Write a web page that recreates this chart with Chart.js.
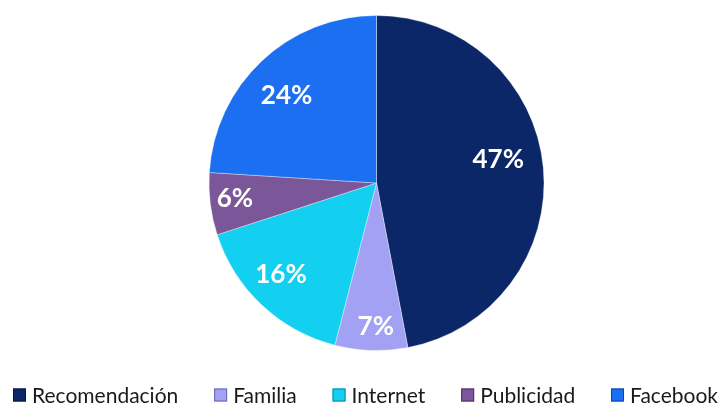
<!DOCTYPE html>
<html>
<head>
<meta charset="utf-8">
<script src="https://cdn.jsdelivr.net/npm/chart.js@4/dist/chart.umd.min.js"></script>
<style>
html,body{margin:0;padding:0;background:#fff;}
#wrap{width:722px;height:405px;position:relative;}
</style>
</head>
<body>
<div id="wrap"><canvas id="c" width="722" height="405"></canvas></div>
<script>
const categories = ["Recomendación", "Familia", "Internet", "Publicidad", "Facebook"];
const values = [47, 7, 16, 6, 24];
const valueLabels = ["47%", "7%", "16%", "6%", "24%"];

const sliceColors = ["#0c2767", "#a3a1f3", "#13d0f0", "#7b5799", "#1b6ff0"];
const boxBorders = ["#06163d", "#6a67b5", "#0a8aa3", "#4d3266", "#0d47a8"];
const labelRadius = [0.74, 0.86, 0.79, 0.85, 0.75];
const labelAngleShift = [-5.5, -1.5, 3, 1, -2.5];

const labelPlugin = {
  id: 'sliceLabels',
  afterDatasetsDraw(chart) {
    const ctx = chart.ctx;
    const meta = chart.getDatasetMeta(0);
    ctx.save();
    ctx.font = 'bold 26px Lato, "Open Sans", sans-serif';
    ctx.fillStyle = '#ffffff';
    ctx.textAlign = 'center';
    ctx.textBaseline = 'middle';
    meta.data.forEach((arc, i) => {
      const p = arc.getProps(['x','y','startAngle','endAngle','outerRadius'], true);
      const mid = (p.startAngle + p.endAngle) / 2 + labelAngleShift[i] * Math.PI / 180;
      const r = p.outerRadius * labelRadius[i];
      ctx.fillText(valueLabels[i], p.x + Math.cos(mid) * r, p.y + Math.sin(mid) * r);
    });
    ctx.restore();
  }
};

const legendPlugin = {
  id: 'bottomLegend',
  afterDraw(chart) {
    const ctx = chart.ctx;
    ctx.save();
    ctx.font = '21px Lato, "Open Sans", sans-serif';
    ctx.textBaseline = 'middle';
    ctx.textAlign = 'left';
    const box = 13, gap = 6;
    const widths = categories.map(c => ctx.measureText(c).width);
    const itemsW = widths.reduce((a, w) => a + box + gap + w, 0);
    const totalW = 705;
    const spacing = (totalW - itemsW) / (categories.length - 1);
    let x = 13;
    const y = 395;
    categories.forEach((c, i) => {
      ctx.fillStyle = sliceColors[i];
      ctx.fillRect(x, y - box / 2, box, box);
      ctx.strokeStyle = boxBorders[i];
      ctx.lineWidth = 1;
      ctx.strokeRect(x + 0.5, y - box / 2 + 0.5, box - 1, box - 1);
      ctx.fillStyle = '#1a1a1a';
      ctx.fillText(c, x + box + gap, y + 1);
      x += box + gap + widths[i] + spacing;
    });
    ctx.restore();
  }
};

new Chart(document.getElementById('c'), {
  type: 'pie',
  data: {
    labels: categories,
    datasets: [{
      data: values,
      backgroundColor: sliceColors,
      borderColor: 'rgba(255,255,255,0.35)',
      borderWidth: 1
    }]
  },
  options: {
    responsive: false,
    animation: false,
    layout: { padding: { top: 15, left: 31, right: 0, bottom: 54 } },
    plugins: {
      tooltip: { enabled: false },
      legend: { display: false }
    }
  },
  plugins: [labelPlugin, legendPlugin]
});
</script>
</body>
</html>
